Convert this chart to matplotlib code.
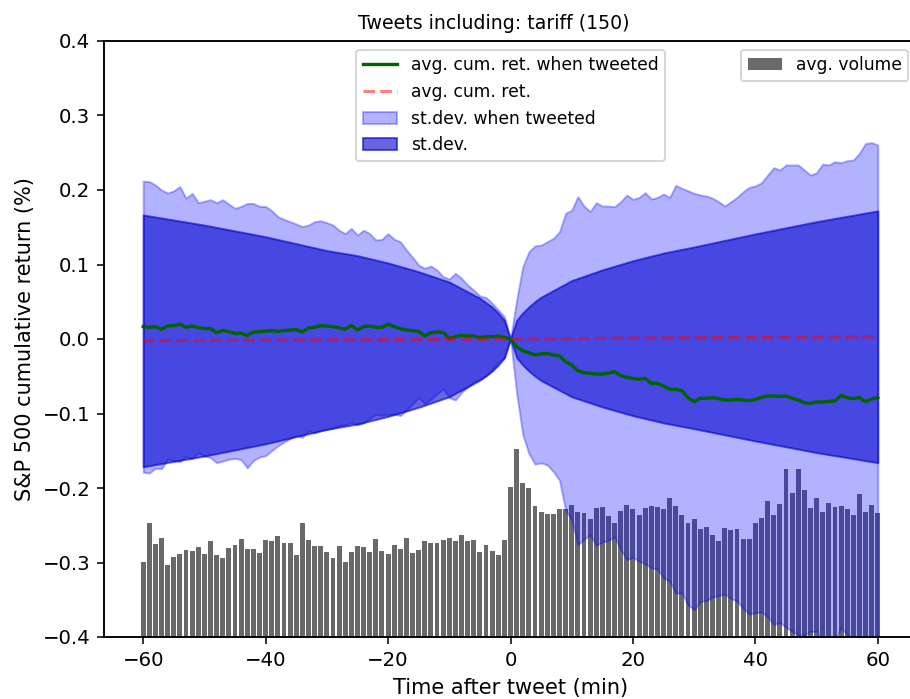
import matplotlib
matplotlib.use('Agg')
import matplotlib.pyplot as plt
import numpy as np

minutes = list(range(-60, 61))

# avg. cumulative return (%) after tweets containing "tariff"
ret_tweeted = [
    0.0166, 0.0157, 0.0166, 0.0130, 0.0175, 0.0179, 0.0200, 0.0157, 0.0175, 0.0152,
    0.0139, 0.0139, 0.0085, 0.0116, 0.0098, 0.0076, 0.0080, 0.0045, 0.0094, 0.0098,
    0.0107, 0.0112, 0.0103, 0.0112, 0.0120, 0.0125, 0.0094, 0.0148, 0.0157, 0.0180,
    0.0174, 0.0166, 0.0148, 0.0130, 0.0183, 0.0121, 0.0166, 0.0174, 0.0157, 0.0157,
    0.0200, 0.0166, 0.0139, 0.0121, 0.0112, 0.0103, 0.0040, 0.0085, 0.0094, 0.0085,
    0.0009, 0.0031, 0.0049, 0.0040, 0.0040, 0.0018, 0.0031, 0.0031, 0.0040, 0.0022,
    0.0,
    -0.0103, -0.0157, -0.0183, -0.0215, -0.0201, -0.0192, -0.0215, -0.0228, -0.0304, -0.0349,
    -0.0425, -0.0452, -0.0460, -0.0470, -0.0470, -0.0460, -0.0438, -0.0492, -0.0514, -0.0528,
    -0.0540, -0.0528, -0.0595, -0.0595, -0.0630, -0.0675, -0.0675, -0.0694, -0.0788, -0.0841,
    -0.0796, -0.0796, -0.0787, -0.0801, -0.0819, -0.0819, -0.0810, -0.0819, -0.0828, -0.0810,
    -0.0783, -0.0765, -0.0765, -0.0770, -0.0765, -0.0796, -0.0819, -0.0855, -0.0863, -0.0846,
    -0.0846, -0.0837, -0.0832, -0.0756, -0.0787, -0.0801, -0.0787, -0.0841, -0.0805, -0.0787,
]

# st.dev. of cumulative return when tweeted
std_tweeted = [
    0.1954, 0.1956, 0.1901, 0.1870, 0.1785, 0.1811, 0.1845, 0.1733, 0.1780, 0.1678,
    0.1711, 0.1731, 0.1745, 0.1754, 0.1712, 0.1678, 0.1700, 0.1775, 0.1726, 0.1682,
    0.1673, 0.1611, 0.1539, 0.1494, 0.1455, 0.1419, 0.1414, 0.1382, 0.1418, 0.1408,
    0.1387, 0.1364, 0.1312, 0.1284, 0.1302, 0.1274, 0.1294, 0.1240, 0.1172, 0.1181,
    0.1214, 0.1174, 0.1167, 0.1074, 0.0985, 0.0890, 0.0910, 0.0895, 0.0832, 0.0752,
    0.0796, 0.0850, 0.0765, 0.0685, 0.0617, 0.0559, 0.0528, 0.0448, 0.0350, 0.0278,
    0.0,
    0.0623, 0.1127, 0.1353, 0.1465, 0.1461, 0.1498, 0.1565, 0.1668, 0.1991, 0.2079,
    0.2335, 0.2237, 0.2170, 0.2300, 0.2255, 0.2245, 0.2213, 0.2335, 0.2447, 0.2403,
    0.2440, 0.2492, 0.2475, 0.2495, 0.2576, 0.2575, 0.2738, 0.2716, 0.2778, 0.2796,
    0.2729, 0.2716, 0.2677, 0.2644, 0.2604, 0.2662, 0.2710, 0.2796, 0.2864, 0.2864,
    0.2881, 0.2965, 0.3065, 0.3038, 0.3101, 0.3132, 0.3155, 0.3123, 0.3063, 0.3079,
    0.3195, 0.3173, 0.3212, 0.3123, 0.3181, 0.3204, 0.3280, 0.3467, 0.3440, 0.3391,
]

# baseline (all minutes) average return and st.dev.
base_minutes = [-60, -50, -40, -30, -25, -20, -15, -10, -5, -4, -3, -2, -1, 0,
                1, 2, 3, 4, 5, 10, 15, 20, 25, 30, 40, 50, 60]
ret_base = [-0.0025, -0.0021, -0.0017, -0.0013, -0.0011, -0.0009, -0.0007, -0.0005,
            -0.0002, -0.0002, -0.0001, -0.0001, 0.0, 0.0,
            0.0001, 0.0001, 0.0001, 0.0002, 0.0002, 0.0005, 0.0008, 0.0011, 0.0014,
            0.0016, 0.0021, 0.0025, 0.0030]
std_base = [0.169, 0.155, 0.139, 0.120, 0.113, 0.103, 0.091, 0.077, 0.055, 0.049,
            0.043, 0.035, 0.025, 0.0,
            0.025, 0.035, 0.043, 0.050, 0.056, 0.078, 0.092, 0.104, 0.114, 0.122,
            0.139, 0.155, 0.169]

# avg. volume per minute (arbitrary units)
volume = [
    75, 114, 93, 99, 72, 80, 83, 87, 86, 90, 83, 96, 82, 79, 89, 92, 98, 88, 88, 84,
    97, 96, 101, 94, 94, 82, 114, 97, 91, 91, 85,
    79, 91, 75, 85, 91, 90, 85, 98, 86, 83, 92, 88, 99, 84, 87, 96, 94, 94, 97, 99,
    96, 102, 96, 97, 85, 92, 86, 82, 97, 150, 188,
    154, 149, 131, 125, 123, 123, 128, 128, 132, 125, 124, 118, 129, 130, 121, 114,
    126, 132, 128, 122, 129, 131, 130, 128, 139, 131, 122, 114, 118, 108,
    110, 102, 96, 109, 107, 108, 98, 98, 114, 119, 136, 122, 133, 168, 144, 168, 147,
    129, 139, 125, 134, 130, 131, 128, 122, 143, 125, 132, 124,
]


def main():
    t = np.array(minutes)
    r_tw = np.array(ret_tweeted)
    s_tw = np.array(std_tweeted)
    tb = np.array(base_minutes)
    r_b = np.array(ret_base)
    s_b = np.array(std_base)

    fig = plt.figure(figsize=(910 / 142, 699 / 142), dpi=142)
    ax = fig.add_axes([104 / 910, 62 / 699, 813 / 910, 596 / 699])
    ax2 = ax.twinx()

    ax2.bar(t, volume, width=0.8, color='dimgray', label='avg. volume')
    ax2.set_ylim(0, 596)
    ax2.set_yticks([])
    ax2.legend(loc='upper right', fontsize=8.7)

    ax.set_zorder(ax2.get_zorder() + 1)
    ax.patch.set_visible(False)

    l_tw, = ax.plot(t, r_tw, color='darkgreen', lw=1.7, label='avg. cum. ret. when tweeted')
    l_b, = ax.plot(tb, r_b, color='red', alpha=0.5, ls='--', lw=1.6, label='avg. cum. ret.')
    f_tw = ax.fill_between(t, r_tw - s_tw, r_tw + s_tw, color='blue', alpha=0.3,
                           label='st.dev. when tweeted')
    f_b = ax.fill_between(tb, r_b - s_b, r_b + s_b, facecolor='mediumblue',
                          edgecolor='mediumblue', alpha=0.6, label='st.dev.')

    ax.legend(handles=[l_tw, l_b, f_tw, f_b], loc='upper center', fontsize=8.7)
    ax.set_ylim(-0.4, 0.4)
    ax.set_xlim(-66.4, 66.4)
    ax.set_xticks([-60, -40, -20, 0, 20, 40, 60])
    ax.set_xlabel('Time after tweet (min)', fontsize=10.6)
    ax.set_ylabel('S&P 500 cumulative return (%)', fontsize=10.6)
    ax.set_title('Tweets including: tariff (150)', x=0.48, fontsize=9.6)

    plt.savefig('out.png', dpi=142)


if __name__ == '__main__':
    main()
